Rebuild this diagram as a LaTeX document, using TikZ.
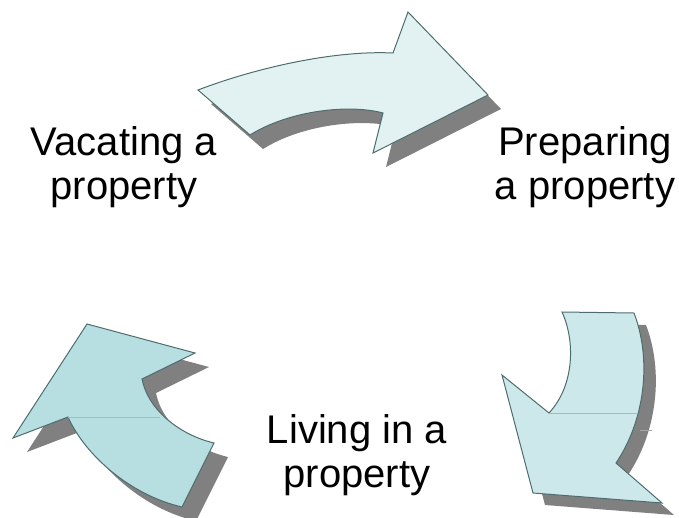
\documentclass[tikz,border=0pt]{standalone}
\usepackage{fontspec}
\setmainfont{Liberation Sans}
\begin{document}
\begin{tikzpicture}[x=1pt,y=-1pt,
  outline/.style={draw=edgecol,line width=1pt,line join=miter},
  dropshadow/.style={fill=shadowgray},
  seam/.style={draw=#1,line width=0.8pt},
  label/.style={align=center,inner sep=0pt,font=\fontsize{40}{44}\selectfont,text=black}]
\definecolor{edgecol}{HTML}{4E6C6D}
\definecolor{shadowgray}{HTML}{808080}
\definecolor{fillA}{HTML}{E2F2F3}
\definecolor{fillB}{HTML}{CDE8EA}
\definecolor{fillC}{HTML}{B7DFE2}
\useasboundingbox (0,0) rectangle (679,517);

% curved block arrows: outlines
\def\arrowtop{(198,90) .. controls (250,70) and (330,50) .. (393,53) -- (408,12) -- (488,95) -- (373,153) -- (383,113) .. controls (350,104) and (290,110) .. (250,135) -- cycle}
\def\arrowright{(562,312) -- (634,313) .. controls (652,360) and (645,420) .. (616,463) -- (662,503) -- (533,493) -- (502,375) -- (549,413) .. controls (575,385) and (575,340) .. (562,312) -- cycle}
\def\arrowleft{(87,324) -- (195,353) -- (142,379) .. controls (148,410) and (180,435) .. (214,443) -- (182,507) .. controls (130,495) and (85,455) .. (68,417) -- (13,438) -- cycle}

% shadows
\fill[dropshadow,shift={(13,14)}] \arrowtop;
\fill[dropshadow,shift={(12,12)}] \arrowright;
\fill[dropshadow,shift={(14,14)}] \arrowleft;

% arrow bodies
\path[outline,fill=fillA] \arrowtop;
\path[outline,fill=fillB] \arrowright;
\path[outline,fill=fillC] \arrowleft;

% faint seams across the lower arrows
\coordinate (rs1) at (549,413);
\coordinate (rs2) at (638,413);
\draw[seam=fillB!80!black] (rs1) -- (rs2);
\coordinate (rs3) at (640,430);
\coordinate (rs4) at (652,430);
\draw[seam=shadowgray!70!white] (rs3) -- (rs4);
\coordinate (ls1) at (68,417);
\coordinate (ls2) at (160,417);
\draw[seam=fillC!85!black] (ls1) -- (ls2);

% stage labels (base anchor sits on the last line)
\node[label,anchor=base] (vacating) at (124,199) {Vacating a\\property};
\node[label,anchor=base] (preparing) at (585,199) {Preparing\\a property};
\node[label,anchor=base] (living) at (357,487) {Living in a\\property};
\end{tikzpicture}
\end{document}
